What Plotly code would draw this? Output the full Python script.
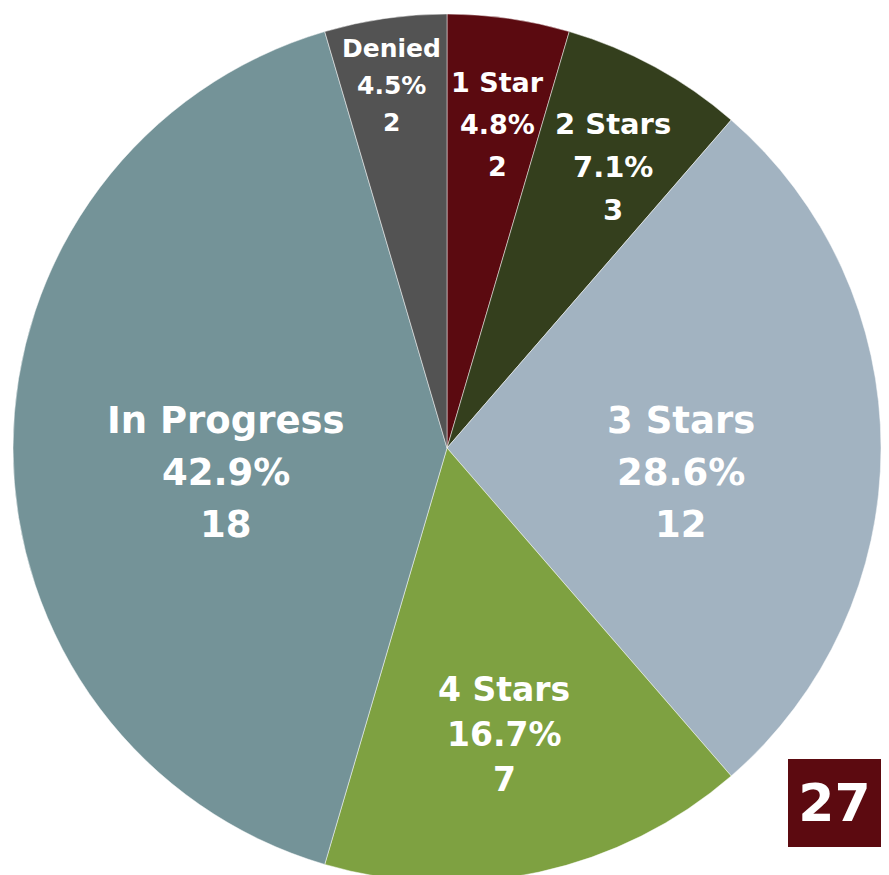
import math
import plotly.graph_objects as go

# Ratings breakdown
categories = ["1 Star", "2 Stars", "3 Stars", "4 Stars", "In Progress", "Denied"]
counts = [2, 3, 12, 7, 18, 2]
percent_labels = ["4.8%", "7.1%", "28.6%", "16.7%", "42.9%", "4.5%"]

colors = ["#5B0A10", "#343F1D", "#A2B3C1", "#7EA141", "#749398", "#535353"]

# Label styling per slice: font size, line spacing (px), radial position (fraction of radius)
label_size = [27, 29, 37, 33, 37, 25]
line_gap = [42, 43, 52, 45, 52, 37]
label_radius = [0.81, 0.80, 0.54, 0.62, 0.51, 0.90]

W, H = 889, 885
CX, CY, R = 447, 448, 434
FONT = "DejaVu Sans"

fig = go.Figure(
    go.Pie(
        labels=categories,
        values=counts,
        sort=False,
        direction="clockwise",
        rotation=0,
        marker=dict(colors=colors, line=dict(color="rgba(255,255,255,0.8)", width=0.6)),
        textinfo="none",
        hoverinfo="label+value",
        showlegend=False,
        domain=dict(
            x=[(CX - R) / W, (CX + R) / W],
            y=[1 - (CY + R) / H, 1 - (CY - R) / H],
        ),
    )
)

annotations = []
total = sum(counts)
start = 0.0
for i, name in enumerate(categories):
    frac = counts[i] / total
    mid = (start + frac / 2) * 2 * math.pi
    start += frac
    rho = label_radius[i] * R
    px = CX + rho * math.sin(mid)
    py = CY - rho * math.cos(mid) + 24
    lines = [name, percent_labels[i], str(counts[i])]
    for j, txt in enumerate(lines):
        ly = py + (j - 1) * line_gap[i]
        annotations.append(
            dict(
                x=px / W,
                y=1 - ly / H,
                xref="paper",
                yref="paper",
                xanchor="center",
                yanchor="middle",
                text=f"<b>{txt}</b>",
                showarrow=False,
                font=dict(family=FONT, size=label_size[i], color="white"),
            )
        )

# Page number badge
annotations.append(
    dict(
        x=834.5 / W,
        y=1 - 803 / H,
        xref="paper",
        yref="paper",
        xanchor="center",
        yanchor="middle",
        text="<b>27</b>",
        showarrow=False,
        width=93,
        height=88,
        bgcolor="#5C0A10",
        borderpad=0,
        borderwidth=0,
        font=dict(family=FONT, size=52, color="white"),
    )
)

fig.update_layout(
    width=W,
    height=H,
    margin=dict(l=0, r=0, t=0, b=0),
    paper_bgcolor="white",
    plot_bgcolor="white",
    annotations=annotations,
)

fig.write_html(
    "out.html",
    post_script="document.body.style.margin='0';document.body.style.overflow='hidden';",
)
